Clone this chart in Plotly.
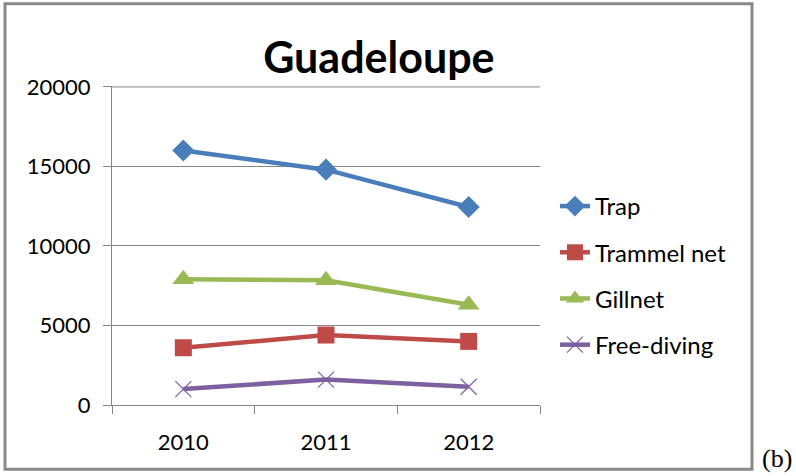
import plotly.graph_objects as go

years = ["2010", "2011", "2012"]
trap = [16000, 14800, 12450]
trammel = [3600, 4400, 4000]
gillnet = [7900, 7850, 6300]
freediving = [1000, 1600, 1150]
y_ticks = [0, 5000, 10000, 15000, 20000]
y_tick_labels = ["0", "5000", "10000", "15000", "20000"]

series = [
    ("Trap", trap, "#4A7EBB", dict(symbol="diamond", size=17)),
    ("Trammel net", trammel, "#BE4B48", dict(symbol="square", size=17)),
    ("Gillnet", gillnet, "#98B954", dict(symbol="triangle-up", size=19)),
    ("Free-diving", freediving, "#7D60A0", dict(symbol="x-thin", size=16, line=dict(width=1.2, color="#7D60A0"))),
]

FONT = "Lato, Liberation Sans, Arial, sans-serif"
fig = go.Figure()
for name, vals, col, mk in series:
    m = dict(color=col, **mk)
    fig.add_trace(go.Scatter(x=years, y=vals, name=name, mode="lines+markers",
                             line=dict(color=col, width=4.5), marker=m,
                             legendgroup=name))

fig.update_layout(
    width=796, height=476,
    margin=dict(l=112, r=256, t=86, b=71),
    paper_bgcolor="white", plot_bgcolor="white",
    font=dict(family=FONT, size=22, color="black"),
    title=dict(text="<b>Guadeloupe</b>", x=0.476, y=0.878, xanchor="center", yanchor="middle",
               font=dict(family=FONT, size=43, color="black")),
    showlegend=True,
    legend=dict(x=1.035, xanchor="left", y=0.406, yanchor="middle", tracegroupgap=12,
                font=dict(family=FONT, size=24), bgcolor="rgba(0,0,0,0)"),
    xaxis=dict(type="category", range=[-0.5, 2.5], tickson="boundaries", ticks="outside",
               ticklen=8, tickcolor="#868686", showline=True, linecolor="#868686", linewidth=1,
               showgrid=False, ticklabelstandoff=18, tickfont=dict(size=22), automargin=False),
    yaxis=dict(range=[0, 20060], tickvals=y_ticks, ticktext=y_tick_labels, ticks="outside", ticklen=8,
               tickcolor="#868686", showline=True, linecolor="#868686", linewidth=1,
               showgrid=True, gridcolor="#868686", gridwidth=1, zeroline=False,
               ticklabelstandoff=8, tickfont=dict(size=22), automargin=False),
)

# top gridline (hidden by plotly at the plot edge)
fig.add_shape(type="line", xref="paper", yref="y", x0=0, x1=1, y0=max(y_ticks), y1=max(y_ticks),
              line=dict(color="#868686", width=1), layer="below")
fig.add_shape(type="rect", xref="paper", yref="paper", x0=-0.25, x1=1.4953, y0=-0.2013, y1=1.2579,
              line=dict(color="#898989", width=3), fillcolor="rgba(0,0,0,0)")
fig.add_annotation(text="(b)", xref="paper", yref="paper", x=1.5537, y=-0.1667,
                   showarrow=False, xanchor="center", yanchor="middle",
                   font=dict(family="Liberation Serif, Times New Roman, serif", size=26, color="black"))

fig.write_html("out.html", config={"displayModeBar": False},
               post_script="document.body.style.margin='0';")
